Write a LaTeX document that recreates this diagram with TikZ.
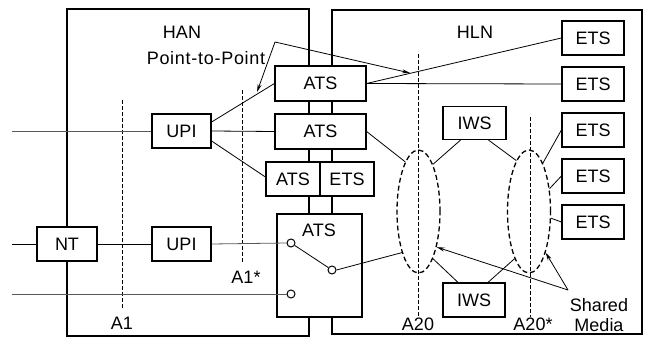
\documentclass[tikz,border=0pt]{standalone}
\usepackage{fontspec}
\setmainfont{Liberation Sans}
\newfontfamily\spacedfont[LetterSpace=4]{Liberation Sans}
\usetikzlibrary{shapes.geometric,arrows.meta,calc}
\begin{document}
\begin{tikzpicture}[x=1pt,y=-1pt,
  frame/.style={draw,line width=2pt,inner sep=0pt},
  box/.style={draw,fill=white,line width=1.2pt,inner sep=0pt,font=\fontsize{18}{18}\selectfont},
  lbl/.style={inner sep=0pt,font=\fontsize{18}{20}\selectfont},
  conn/.style={line width=0.8pt},
  feedline/.style={line width=0.8pt,black!65},
  refline/.style={dash pattern=on 4pt off 2pt,line width=0.7pt},
  medium/.style={ellipse,draw,dash pattern=on 5pt off 3pt,line width=1.3pt,minimum width=43pt,minimum height=123pt,inner sep=0pt},
  sw/.style={circle,draw,fill=white,line width=1pt,minimum size=8pt,inner sep=0pt},
  ptr/.style={line width=0.8pt,-{Stealth[length=8pt,width=4pt]}}
]
\useasboundingbox (0,0) rectangle (651,339);
% frames
\node[frame,minimum width=242pt,minimum height=327pt] (han) at (188,172.5) {};
\node[frame,minimum width=310pt,minimum height=324pt] (hln) at (487,172) {};
\node[lbl] (hanl) at (182,32) {HAN};
\node[lbl] (hlnl) at (475,32) {HLN};
\node[lbl,font=\fontsize{18}{20}\spacedfont] (ptpl) at (206,58) {Point-to-Point};

% reference lines
\coordinate (a1t) at (122,100); \coordinate (a1b) at (122,308);
\coordinate (a1st) at (242,90); \coordinate (a1sb) at (242,262);
\coordinate (a20t) at (418,54); \coordinate (a20b) at (418,317);
\coordinate (a20st) at (530,117); \coordinate (a20sb) at (530,317);
\draw[refline] (a1t) -- (a1b);
\draw[refline] (a1st) -- (a1sb);
\draw[refline] (a20t) -- (a20b);
\draw[refline] (a20st) -- (a20sb);
\node[lbl] (a1l) at (122,323) {A1};
\node[lbl] (a1sl) at (246,277) {A1*};
\node[lbl] (a20l) at (418,324) {A20};
\node[lbl] (a20sl) at (533,324) {A20*};

% shared media
\node[medium] (e1) at (418.5,211.5) {};
\node[medium] (e2) at (529,211.5) {};

% boxes
\node[box,minimum width=91pt,minimum height=35pt] (ats1) at (320.5,83.5) {ATS};
\node[box,minimum width=91pt,minimum height=35pt] (ats2) at (320.5,131.5) {ATS};
\node[box,minimum width=54pt,minimum height=34pt] (ats3) at (293,179) {ATS};
\node[box,minimum width=54pt,minimum height=34pt] (etsm) at (347,179) {ETS};
\node[box,minimum width=85pt,minimum height=103pt] (swbox) at (319.5,265.5) {};
\node[lbl] (swl) at (319,230) {ATS};
\node[box,minimum width=59pt,minimum height=34pt] (upi1) at (181.5,131) {UPI};
\node[box,minimum width=59pt,minimum height=34pt] (upi2) at (181.5,244) {UPI};
\node[box,minimum width=60pt,minimum height=34pt] (nt) at (67,244) {NT};
\foreach \i/\y in {1/38,2/84,3/130,4/176,5/222}
  \node[box,minimum width=62pt,minimum height=34pt] (ets\i) at (593,\y) {ETS};
\node[box,minimum width=63pt,minimum height=33pt] (iws1) at (474.5,123) {IWS};
\node[box,minimum width=62pt,minimum height=34pt] (iws2) at (474,300) {IWS};

% switch contacts
\node[sw] (c1) at (291,243) {};
\node[sw] (c2) at (332,270) {};
\node[sw] (c3) at (291,294) {};

% feed lines
\coordinate (in1) at (12,131);
\coordinate (in2) at (12,244);
\coordinate (in3) at (12,294);
\draw[feedline] (in1) -- (upi1.west);
\draw[conn] (in2) -- (nt.west);
\draw[conn] (nt.east) -- (upi2.west);
\draw[feedline] (upi2.east) -- (c1.west);
\draw[feedline] (in3) -- (c3.west);

% connectors
\draw[conn] ([yshift=9pt]upi1.east) -- (ats1.west);
\draw[conn] (upi1.east) -- (ats2.west);
\draw[conn] ([yshift=-10pt]upi1.east) -- ([yshift=2pt]ats3.west);
\draw[conn] (ats1.east) -- (ets1.west);
\draw[conn] (ats1.east) -- (ets2.west);
\draw[conn] (ats2.east) -- (e1.105);
\draw[conn] (c1) -- (c2);
\draw[conn] (c2.east) -- (e1.248);
\draw[conn] ([xshift=-14pt]iws1.south) -- (e1.73);
\draw[conn] ([xshift=14pt]iws1.south) -- (e2.104);
\draw[conn] (ets3.west) -- (e2.74);
\draw[conn] (ets4.west) -- (e2.48);
\draw[conn] (ets5.west) -- (e2.343);
\draw[conn] ([xshift=-16pt]iws2.north) -- (e1.287);
\draw[conn] ([xshift=14pt]iws2.north) -- (e2.253);

% pointers
\coordinate (ptp) at (275,42);
\coordinate (ptpa) at (257,92);
\coordinate (ptpb) at (410,73);
\draw[ptr] (ptp) -- (ptpa);
\draw[ptr] (ptp) -- (ptpb);
\node[lbl,align=center] (sml) at (599,315) {Shared\\Media};
\coordinate (smt) at (568,290);
\draw[ptr] (smt) -- (e1.297);
\draw[ptr] (smt) -- (e2.292);
\end{tikzpicture}
\end{document}
